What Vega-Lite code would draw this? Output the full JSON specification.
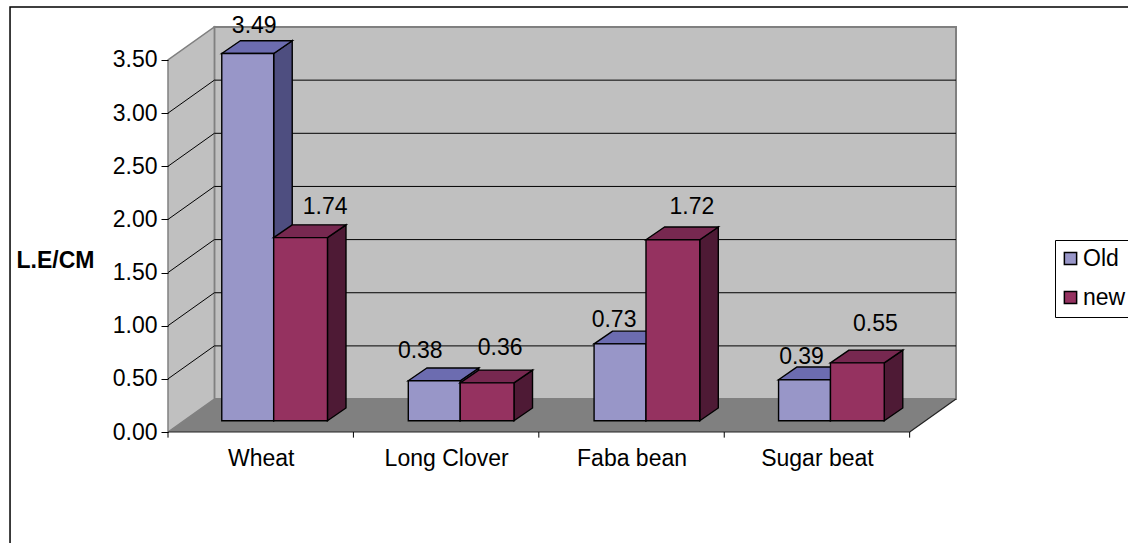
{
"$schema":"https://vega.github.io/schema/vega-lite/v6.json",
"width":788,"height":405,
"autosize":"none",
"padding":{"left":168,"top":27,"right":172,"bottom":111},
"background":"white",
"view":{"stroke":null},
"config":{"font":"Liberation Sans","axis":{"grid":false}},
"datasets":{
"corners":[{"t":0},{"t":1}],
"gridvals":[{"v":0.5},{"v":1},{"v":1.5},{"v":2},{"v":2.5},{"v":3}],
"cats":[{"k":0},{"k":1},{"k":2},{"k":3},{"k":4}],
"bars":[
{"crop":"Wheat","series":"Old","value":3.49},
{"crop":"Wheat","series":"new","value":1.74},
{"crop":"Long Clover","series":"Old","value":0.38},
{"crop":"Long Clover","series":"new","value":0.36},
{"crop":"Faba bean","series":"Old","value":0.73},
{"crop":"Faba bean","series":"new","value":1.72},
{"crop":"Sugar beat","series":"Old","value":0.39},
{"crop":"Sugar beat","series":"new","value":0.55}
]},
"layer":[
{"data":{"values":[{}]},"mark":{"type":"rect","fill":null,"stroke":"#000000","strokeWidth":1.5},
 "encoding":{
  "x":{"datum":-0.852,"type":"quantitative","title":null,"scale":{"domain":[0,4.25],"nice":false,"zero":false},
   "axis":{"values":[0.5,1.5,2.5,3.5],"labelExpr":"['Wheat','Long Clover','Faba bean','Sugar beat'][floor(datum.value)]","ticks":false,"domain":false,"labelFontSize":23,"labelColor":"#000000","labelPadding":26,"labelBaseline":"middle","title":null,"zindex":1,"labelFlush":false,"labelOverlap":false}},
  "x2":{"datum":6.6},
  "y":{"datum":3.998,"type":"quantitative","title":"L.E/CM","scale":{"domain":[0,3.81],"nice":false,"zero":false},
   "axis":{"values":[0,0.5,1,1.5,2,2.5,3,3.5],"format":".2f","domain":false,"tickSize":7,"tickColor":"#000000","tickWidth":1,"labelFontSize":23,"labelColor":"#000000","labelPadding":4,"zindex":1,"title":"L.E/CM","titleAngle":0,"titleFontSize":23,"titleFontWeight":"bold","titleColor":"#000000","titleX":-113,"titleY":233,"titleAlign":"center","titleBaseline":"middle"}},
  "y2":{"datum":-2}}},
{"data":{"values":[{}]},"mark":{"type":"rect","fill":"#C0C0C0","stroke":"#808080","strokeWidth":2},
 "encoding":{"x":{"datum":0.25,"type":"quantitative"},"x2":{"datum":4.25},"y":{"datum":0.31,"type":"quantitative"},"y2":{"datum":3.81}}},
{"data":{"name":"corners"},"transform":[{"calculate":"datum.t*0.25","as":"x"},{"calculate":"datum.t*0.31","as":"lo"},{"calculate":"3.5+datum.t*0.31","as":"hi"}],
 "mark":{"type":"area","fill":"#C0C0C0","stroke":"#808080","strokeWidth":1.5,"orient":"vertical"},
 "encoding":{"x":{"field":"x","type":"quantitative"},"y":{"field":"lo","type":"quantitative"},"y2":{"field":"hi"}}},
{"data":{"name":"corners"},"transform":[{"calculate":"datum.t*0.25","as":"xa"},{"calculate":"4+datum.t*0.25","as":"xb"},{"calculate":"datum.t*0.31","as":"y"}],
 "mark":{"type":"area","fill":"#808080","orient":"horizontal"},
 "encoding":{"y":{"field":"y","type":"quantitative"},"x":{"field":"xa","type":"quantitative"},"x2":{"field":"xb"}}},
{"data":{"name":"gridvals"},"transform":[{"calculate":"datum.v+0.31","as":"yb"}],
 "mark":{"type":"rule","stroke":"#000000","strokeWidth":1},
 "encoding":{"x":{"datum":0.25,"type":"quantitative"},"x2":{"datum":4.25},"y":{"field":"yb","type":"quantitative"}}},
{"data":{"name":"gridvals"},"transform":[{"calculate":"[0,1]","as":"t"},{"flatten":["t"]},{"calculate":"datum.t*0.25","as":"x"},{"calculate":"datum.v+datum.t*0.31","as":"y"}],
 "mark":{"type":"line","stroke":"#000000","strokeWidth":1},
 "encoding":{"x":{"field":"x","type":"quantitative"},"y":{"field":"y","type":"quantitative"},"detail":{"field":"v"}}},
{"data":{"values":[{}]},"mark":{"type":"rule","stroke":"#222222","strokeWidth":1.2},
 "encoding":{"x":{"datum":0,"type":"quantitative"},"x2":{"datum":4},"y":{"datum":0,"type":"quantitative"}}},
{"data":{"name":"corners"},"transform":[{"calculate":"4+datum.t*0.25","as":"x"},{"calculate":"datum.t*0.31","as":"y"}],
 "mark":{"type":"line","stroke":"#222222","strokeWidth":1.2},
 "encoding":{"x":{"field":"x","type":"quantitative"},"y":{"field":"y","type":"quantitative"}}},
{"data":{"name":"cats"},"mark":{"type":"rule","stroke":"#000000","strokeWidth":1},
 "encoding":{"x":{"field":"k","type":"quantitative"},"y":{"datum":0,"type":"quantitative"},"y2":{"datum":-0.053}}},
{"data":{"name":"bars"},
 "transform":[
  {"calculate":"indexof(['Wheat','Long Clover','Faba bean','Sugar beat'],datum.crop)","as":"k"},
  {"calculate":"[0,1.006,2.008,3.003][datum.k]","as":"i"},
  {"calculate":"datum.i+(datum.series==='Old'?0.29:0.57)","as":"xl"},
  {"calculate":"datum.i+(datum.series==='Old'?0.57:0.86)","as":"xr"},
  {"calculate":"0.106","as":"base"},
  {"calculate":"0.106+0.99*datum.value","as":"top"},
  {"calculate":"[0,1]","as":"t"},{"flatten":["t"]},
  {"calculate":"datum.xr+datum.t*0.1","as":"sx"},
  {"calculate":"datum.top+datum.t*0.12","as":"sy"},
  {"calculate":"datum.base+datum.t*0.12","as":"sb"},
  {"calculate":"datum.xl+datum.t*0.1","as":"tl"}
 ],
 "layer":[
  {"transform":[{"filter":"datum.series==='Old'"}],"mark":{"type":"area","fill":"#4E4E80","stroke":"#000000","strokeWidth":1.4,"orient":"vertical"},
   "encoding":{"x":{"field":"sx","type":"quantitative"},"y":{"field":"sb","type":"quantitative"},"y2":{"field":"sy"},"detail":{"field":"crop"}}},
  {"transform":[{"filter":"datum.series==='Old'"}],"mark":{"type":"area","fill":"#6C6CB0","stroke":"#000000","strokeWidth":1.4,"orient":"horizontal"},
   "encoding":{"y":{"field":"sy","type":"quantitative"},"x":{"field":"tl","type":"quantitative"},"x2":{"field":"sx"},"detail":{"field":"crop"}}},
  {"transform":[{"filter":"datum.series==='Old' && datum.t===0"}],"mark":{"type":"rect","stroke":"#000000","strokeWidth":1.4},
   "encoding":{"x":{"field":"xl","type":"quantitative"},"x2":{"field":"xr"},"y":{"field":"base","type":"quantitative"},"y2":{"field":"top"},
    "color":{"field":"series","type":"nominal","scale":{"domain":["Old","new"],"range":["#9896C8","#953260"]},
     "legend":{"title":null,"orient":"none","legendX":887,"legendY":213,"fillColor":"white","strokeColor":"#000000","padding":7,"labelFontSize":23,"labelColor":"#000000","symbolType":"square","symbolSize":150,"symbolStrokeColor":"#000000","symbolStrokeWidth":1.5,"rowPadding":15,"symbolOffset":-3,"labelOffset":1}}}},
  {"transform":[{"filter":"datum.series==='new'"}],"mark":{"type":"area","fill":"#4E1A35","stroke":"#000000","strokeWidth":1.4,"orient":"vertical"},
   "encoding":{"x":{"field":"sx","type":"quantitative"},"y":{"field":"sb","type":"quantitative"},"y2":{"field":"sy"},"detail":{"field":"crop"}}},
  {"transform":[{"filter":"datum.series==='new'"}],"mark":{"type":"area","fill":"#772850","stroke":"#000000","strokeWidth":1.4,"orient":"horizontal"},
   "encoding":{"y":{"field":"sy","type":"quantitative"},"x":{"field":"tl","type":"quantitative"},"x2":{"field":"sx"},"detail":{"field":"crop"}}},
  {"transform":[{"filter":"datum.series==='new' && datum.t===0"}],"mark":{"type":"rect","stroke":"#000000","strokeWidth":1.4},
   "encoding":{"x":{"field":"xl","type":"quantitative"},"x2":{"field":"xr"},"y":{"field":"base","type":"quantitative"},"y2":{"field":"top"},
    "color":{"field":"series","type":"nominal"}}},
  {"transform":[{"filter":"datum.t===0"},
    {"calculate":"datum.crop+'|'+datum.series","as":"key"},
    {"calculate":"{'Wheat|Old':6.5,'Wheat|new':24.5,'Long Clover|Old':-14,'Long Clover|new':13,'Faba bean|Old':-6,'Faba bean|new':19,'Sugar beat|Old':-3,'Sugar beat|new':18}[datum.key]/185.4+(datum.xl+datum.xr)/2","as":"lx"},
    {"calculate":"{'Wheat|Old':27.3,'Wheat|new':30.6,'Long Clover|Old':30,'Long Clover|new':35,'Faba bean|Old':24,'Faba bean|new':32.7,'Sugar beat|Old':23,'Sugar beat|new':39}[datum.key]/106.3+datum.top","as":"ly"}],
   "mark":{"type":"text","fontSize":23,"color":"#000000","baseline":"middle","align":"center"},
   "encoding":{"x":{"field":"lx","type":"quantitative"},"y":{"field":"ly","type":"quantitative"},"text":{"field":"value","type":"quantitative","format":".2f"}}}
 ]}
]}
